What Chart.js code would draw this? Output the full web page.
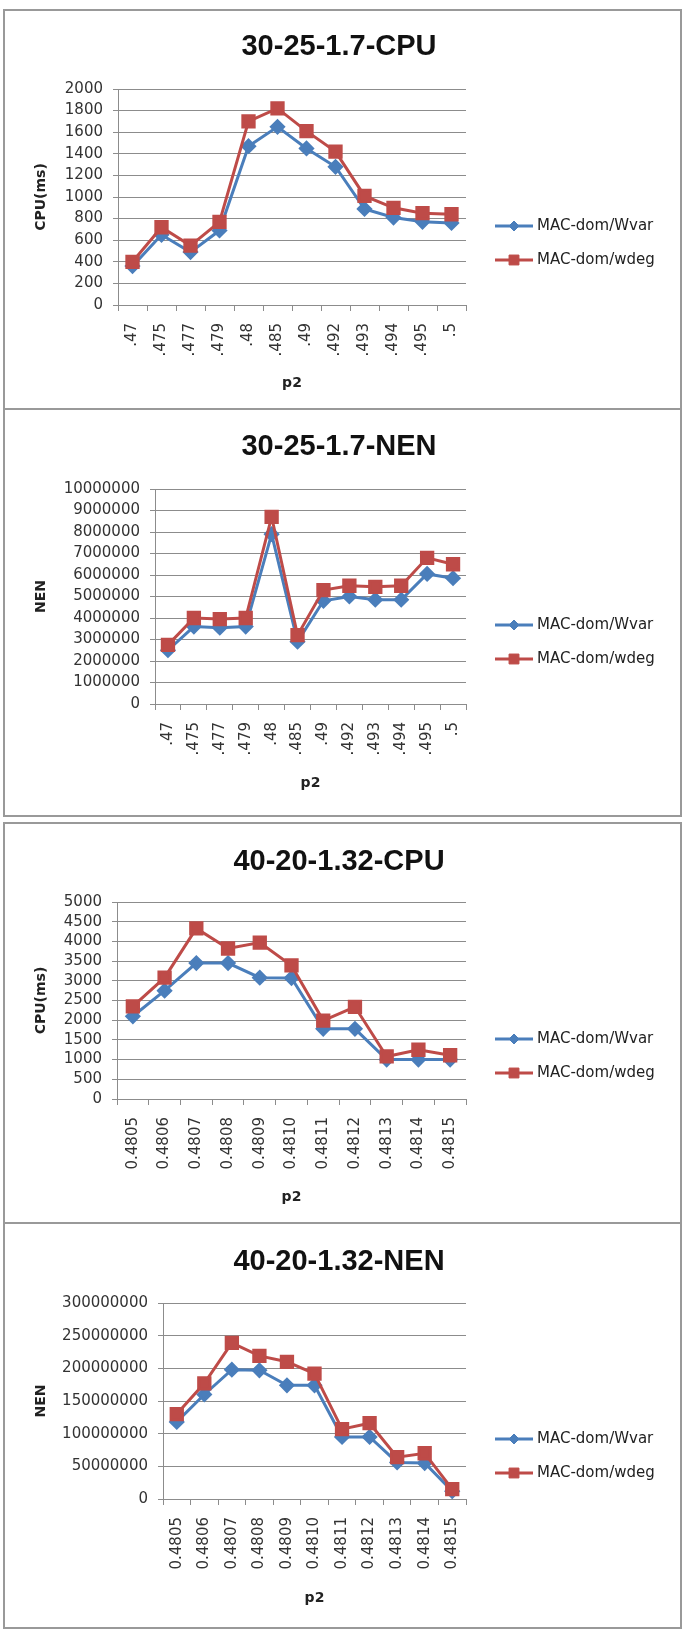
<!DOCTYPE html>
<html>
<head>
<meta charset="utf-8">
<script src="https://cdn.jsdelivr.net/npm/chart.js@4.4.1/dist/chart.umd.min.js"></script>
<style>
html, body { margin: 0; padding: 0; background: #fff; }
body { position: relative; width: 684px; height: 1630px; overflow: hidden; }
.panel { position: absolute; left: 3px; width: 679px; box-sizing: border-box; border: 2px solid #999; }
canvas { position: absolute; left: 0; }
</style>
</head>
<body>
<div class="panel" style="top:9px;height:401px"></div>
<div class="panel" style="top:408px;height:409px"></div>
<div class="panel" style="top:822px;height:402px"></div>
<div class="panel" style="top:1222px;height:407px"></div>
<canvas id="cpu1" width="684" height="399" style="top:10px"></canvas>
<canvas id="nen1" width="684" height="407" style="top:409px"></canvas>
<canvas id="cpu2" width="684" height="400" style="top:823px"></canvas>
<canvas id="nen2" width="684" height="407" style="top:1223px"></canvas>
<script>
// x categories (p2)
const p2Short = ['.47', '.475', '.477', '.479', '.48', '.485', '.49', '.492', '.493', '.494', '.495', '.5'];
const p2Long = ['0.4805', '0.4806', '0.4807', '0.4808', '0.4809', '0.4810', '0.4811', '0.4812', '0.4813', '0.4814', '0.4815'];

const seriesNames = ['MAC-dom/Wvar', 'MAC-dom/wdeg'];

// 30-25-1.7
const cpu1Wvar = [360, 650, 490, 690, 1470, 1650, 1450, 1280, 890, 810, 770, 760];
const cpu1Wdeg = [400, 720, 550, 770, 1700, 1820, 1610, 1420, 1010, 900, 850, 840];
const nen1Wvar = [2500000, 3600000, 3550000, 3600000, 7900000, 2900000, 4800000, 5000000, 4850000, 4850000, 6050000, 5850000];
const nen1Wdeg = [2750000, 4000000, 3950000, 4000000, 8700000, 3200000, 5300000, 5500000, 5450000, 5500000, 6800000, 6500000];

// 40-20-1.32
const cpu2Wvar = [2100, 2750, 3450, 3450, 3080, 3070, 1780, 1780, 1000, 1000, 1000];
const cpu2Wdeg = [2350, 3080, 4330, 3820, 3970, 3390, 1990, 2340, 1080, 1250, 1110];
const nen2Wvar = [118000000, 160000000, 198000000, 197000000, 174000000, 174000000, 95000000, 95000000, 56000000, 55000000, 12000000];
const nen2Wdeg = [130000000, 177000000, 239000000, 219000000, 210000000, 192000000, 107000000, 116000000, 64000000, 70000000, 15000000];

const BLUE = '#4a7ebb';
const RED = '#be4b48';
const GRID = '#8c8c8c';

// draws the Excel-style legend (line + marker + text) to the right of the plot
const sideLegend = {
    id: 'sideLegend',
    afterDraw(chart, args, opts) {
        const ctx = chart.ctx;
        chart.data.datasets.forEach((ds, i) => {
            const y = opts.rows[i];
            ctx.save();
            ctx.strokeStyle = ds.borderColor;
            ctx.lineWidth = 3;
            ctx.beginPath();
            ctx.moveTo(opts.x0, y);
            ctx.lineTo(opts.x1, y);
            ctx.stroke();
            ctx.fillStyle = ds.backgroundColor;
            ctx.lineWidth = 1;
            Chart.helpers.drawPoint(ctx, { pointStyle: ds.pointStyle, radius: ds.legendRadius, borderWidth: 1 }, (opts.x0 + opts.x1) / 2, y);
            ctx.fillStyle = '#222';
            ctx.font = '15px "DejaVu Sans"';
            ctx.textBaseline = 'middle';
            ctx.textAlign = 'left';
            ctx.fillText(ds.label, opts.x1 + 4, y);
            ctx.restore();
        });
    }
};

function makeChart(canvasId, title, yTitle, labels, wvar, wdeg, yMax, yStep, box) {
    const canvas = document.getElementById(canvasId);
    const padL = 16, padR = 22, padB = 10;
    return new Chart(canvas.getContext('2d'), {
        type: 'line',
        data: {
            labels: labels,
            datasets: [
                {
                    label: seriesNames[0],
                    data: wvar,
                    borderColor: BLUE,
                    backgroundColor: BLUE,
                    borderWidth: 3,
                    pointStyle: 'rectRot',
                    pointRadius: 6,
                    legendRadius: 5,
                    tension: 0,
                    order: 1
                },
                {
                    label: seriesNames[1],
                    data: wdeg,
                    borderColor: RED,
                    backgroundColor: RED,
                    borderWidth: 3,
                    pointStyle: 'rect',
                    pointRadius: 8,
                    legendRadius: 7,
                    tension: 0,
                    order: 0
                }
            ]
        },
        options: {
            responsive: false,
            animation: false,
            devicePixelRatio: 1,
            layout: {
                padding: { left: padL, right: padR, top: 0, bottom: padB }
            },
            plugins: {
                legend: { display: false },
                tooltip: { enabled: false },
                title: {
                    display: true,
                    text: title,
                    color: '#111',
                    font: { family: '"Liberation Sans", Arial, sans-serif', size: 29, weight: 'bold', lineHeight: 1.2 },
                    padding: { top: box.titleY - 17.4, bottom: box.top - box.titleY - 17.4 }
                },
                sideLegend: { x0: 495, x1: 533, rows: [216, 250] }
            },
            scales: {
                x: {
                    offset: true,
                    grid: { display: true, drawOnChartArea: false, drawTicks: true, tickLength: 6, offset: true, color: GRID },
                    border: { display: true, color: GRID, width: 1 },
                    ticks: {
                        autoSkip: false,
                        minRotation: 90,
                        maxRotation: 90,
                        padding: 12,
                        color: '#333',
                        font: { family: '"DejaVu Sans"', size: 15 }
                    },
                    title: {
                        display: true,
                        text: 'p2',
                        color: '#222',
                        font: { family: '"DejaVu Sans"', size: 14, weight: 'bold', lineHeight: 1.2 },
                        padding: { top: 0, bottom: box.h - padB - 8.4 - box.xTitleY }
                    },
                    afterFit: function (scale) {
                        scale.height = (box.h - padB) - box.bottom;
                    }
                },
                y: {
                    min: 0,
                    max: yMax,
                    grid: { color: GRID, tickLength: 5, lineWidth: 1 },
                    border: { display: true, color: GRID, width: 1 },
                    ticks: {
                        stepSize: yStep,
                        autoSkip: false,
                        padding: 10,
                        color: '#333',
                        font: { family: '"DejaVu Sans"', size: 15 },
                        callback: function (value) {
                            return String(value);
                        }
                    },
                    title: {
                        display: true,
                        text: yTitle,
                        color: '#222',
                        font: { family: '"DejaVu Sans"', size: 14, weight: 'bold', lineHeight: 1.2 },
                        padding: { top: 41 - 8.4 - padL, bottom: 0 }
                    },
                    afterFit: function (scale) {
                        scale.width = box.left - padL;
                    }
                },
                // empty right-hand box that holds the space where the legend sits
                legendSpace: {
                    type: 'linear',
                    position: 'right',
                    grid: { display: false, drawTicks: false },
                    border: { display: false },
                    ticks: { display: false },
                    afterFit: function (scale) {
                        scale.width = 684 - padR - box.right;
                    }
                }
            }
        },
        plugins: [sideLegend]
    });
}

makeChart('cpu1', '30-25-1.7-CPU', 'CPU(ms)', p2Short, cpu1Wvar, cpu1Wdeg, 2000, 200,
    { h: 399, left: 118, right: 466, top: 79, bottom: 295, titleY: 37, xTitleY: 373 });
makeChart('nen1', '30-25-1.7-NEN', 'NEN', p2Short, nen1Wvar, nen1Wdeg, 10000000, 1000000,
    { h: 407, left: 155, right: 466, top: 80, bottom: 295, titleY: 38, xTitleY: 374 });
makeChart('cpu2', '40-20-1.32-CPU', 'CPU(ms)', p2Long, cpu2Wvar, cpu2Wdeg, 5000, 500,
    { h: 400, left: 117, right: 466, top: 79, bottom: 276, titleY: 39, xTitleY: 374 });
makeChart('nen2', '40-20-1.32-NEN', 'NEN', p2Long, nen2Wvar, nen2Wdeg, 300000000, 50000000,
    { h: 407, left: 163, right: 466, top: 80, bottom: 276, titleY: 39, xTitleY: 375 });
</script>
</body>
</html>
